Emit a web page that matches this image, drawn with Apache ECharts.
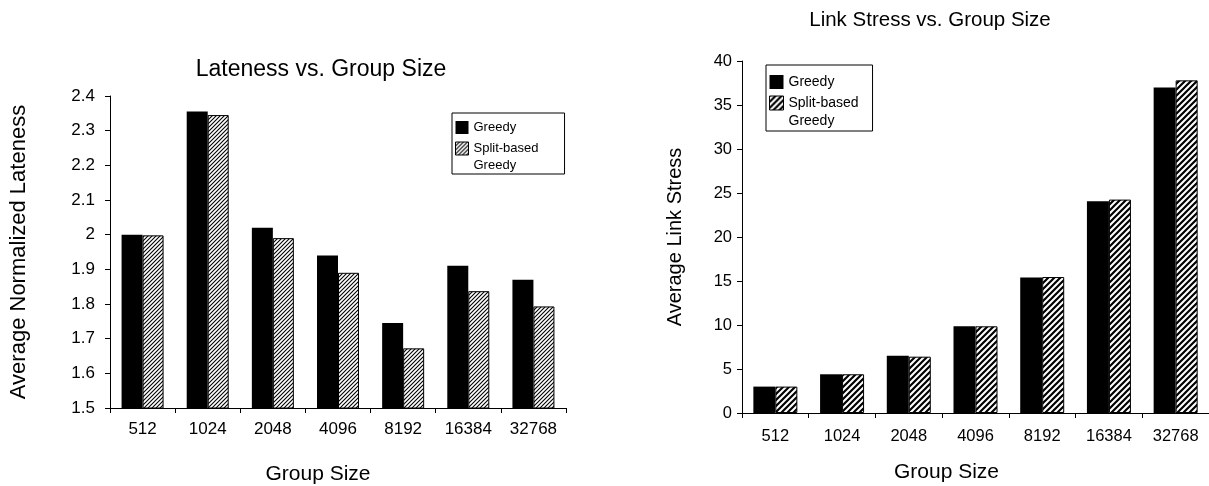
<!DOCTYPE html>
<html>
<head>
<meta charset="utf-8">
<script src="https://cdn.jsdelivr.net/npm/echarts@6/dist/echarts.min.js"></script>
<style>
html, body { margin: 0; padding: 0; background: #fff; }
#chart { width: 1209px; height: 486px; }
</style>
</head>
<body>
<div id="chart"></div>
<script>
var groupSizes = ['512', '1024', '2048', '4096', '8192', '16384', '32768'];
var latenessGreedy = [2.0, 2.355, 2.02, 1.94, 1.745, 1.91, 1.87];
var latenessSplit = [1.998, 2.345, 1.99, 1.89, 1.672, 1.837, 1.793];
var stressGreedy = [3.0, 4.4, 6.5, 9.85, 15.4, 24.05, 37.0];
var stressSplit = [3.0, 4.4, 6.4, 9.85, 15.45, 24.25, 37.8];
var latenessTicks = [1.5, 2.4, 0.1];
var stressTicks = [0, 40, 5];

var FONT = '"Liberation Sans", Arial, sans-serif';

// diagonal hatch tile
function hatch(size, lw) {
    var c = document.createElement('canvas');
    c.width = c.height = size;
    var g = c.getContext('2d');
    g.fillStyle = '#fff';
    g.fillRect(0, 0, size, size);
    g.strokeStyle = '#000';
    g.lineWidth = lw;
    g.beginPath();
    g.moveTo(-size, size * 2); g.lineTo(size * 2, -size);
    g.moveTo(-size, size); g.lineTo(size, -size);
    g.moveTo(0, size * 2); g.lineTo(size * 2, 0);
    g.stroke();
    return { image: c, repeat: 'repeat' };
}
var thinHatch = hatch(4, 1.1);
var thickHatch = hatch(6, 2.2);

// blank first line puts the icon next to "Split-based"; negative gap pulls it back up
function legendOpt(left, top, fontSize, lh, icon, gap, pat, padding) {
    return {
        orient: 'vertical',
        left: left,
        top: top,
        icon: 'rect',
        itemWidth: icon,
        itemHeight: icon,
        itemGap: gap,
        borderColor: '#000',
        borderWidth: 1,
        padding: padding,
        textStyle: { fontFamily: FONT, fontSize: fontSize, color: '#000', lineHeight: lh },
        formatter: function (n) { return n === 'Greedy' ? n : '\nSplit-based\nGreedy'; },
        data: [
            { name: 'Greedy', itemStyle: { color: '#000', borderWidth: 0 } },
            { name: 'Split-based Greedy', itemStyle: { color: pat, borderColor: '#000', borderWidth: 1 } }
        ]
    };
}

function axisStyle() {
    return {
        axisLine: { show: true, lineStyle: { color: '#000', width: 1 } },
        axisTick: { show: true, length: 5, lineStyle: { color: '#000' } },
        splitLine: { show: false }
    };
}

var myChart = echarts.init(document.getElementById('chart'));
var option = {
    animation: false,
    backgroundColor: '#fff',
    textStyle: { fontFamily: FONT },
    title: [
        { text: 'Lateness vs. Group Size', left: 316, top: 53, textAlign: 'center',
          textStyle: { fontFamily: FONT, fontSize: 23, fontWeight: 'normal', color: '#000' } },
        { text: 'Link Stress vs. Group Size', left: 925, top: 5, textAlign: 'center',
          textStyle: { fontFamily: FONT, fontSize: 20.5, fontWeight: 'normal', color: '#000' } }
    ],
    legend: [
        legendOpt(452, 113, 13, 17, 13, -13, thinHatch, [6, 26, 0, 3]),
        legendOpt(766, 65, 14, 18, 14, -15, thickHatch, [8, 14, 1, 3])
    ],
    grid: [
        { left: 110, top: 96, width: 456, height: 312, outerBoundsMode: 'none' },
        { left: 742, top: 61, width: 467, height: 352, outerBoundsMode: 'none' }
    ],
    xAxis: [
        Object.assign({
            type: 'category', gridIndex: 0, data: groupSizes,
            name: 'Group Size', nameLocation: 'middle', nameGap: 56,
            nameTextStyle: { fontFamily: FONT, fontSize: 21, color: '#000', padding: [0, 40, 0, 0] },
            axisLabel: { fontFamily: FONT, fontSize: 17, color: '#000', margin: 13 }
        }, axisStyle()),
        Object.assign({
            type: 'category', gridIndex: 1, data: groupSizes,
            name: 'Group Size', nameLocation: 'middle', nameGap: 49,
            nameTextStyle: { fontFamily: FONT, fontSize: 21, color: '#000', padding: [0, 58, 0, 0] },
            axisLabel: { fontFamily: FONT, fontSize: 16.5, color: '#000', margin: 15 }
        }, axisStyle())
    ],
    yAxis: [
        Object.assign({
            type: 'value', gridIndex: 0,
            min: latenessTicks[0], max: latenessTicks[1], interval: latenessTicks[2],
            name: 'Average Normalized Lateness', nameLocation: 'middle', nameGap: 80,
            nameTextStyle: { fontFamily: FONT, fontSize: 22, color: '#000' },
            axisLabel: { fontFamily: FONT, fontSize: 17, color: '#000', margin: 15 }
        }, axisStyle()),
        Object.assign({
            type: 'value', gridIndex: 1,
            min: stressTicks[0], max: stressTicks[1], interval: stressTicks[2],
            name: 'Average Link Stress', nameLocation: 'middle', nameGap: 57,
            nameTextStyle: { fontFamily: FONT, fontSize: 20, color: '#000' },
            axisLabel: { fontFamily: FONT, fontSize: 16.5, color: '#000', margin: 10 }
        }, axisStyle())
    ],
    series: [
        { name: 'Greedy', type: 'bar', xAxisIndex: 0, yAxisIndex: 0, data: latenessGreedy,
          barWidth: 21, barGap: '0%', itemStyle: { color: '#000' } },
        { name: 'Split-based Greedy', type: 'bar', xAxisIndex: 0, yAxisIndex: 0, data: latenessSplit,
          barWidth: 21, barGap: '0%', itemStyle: { color: thinHatch, borderColor: '#000', borderWidth: 1 } },
        { name: 'Greedy', type: 'bar', xAxisIndex: 1, yAxisIndex: 1, data: stressGreedy,
          barWidth: 22, barGap: '0%', itemStyle: { color: '#000' } },
        { name: 'Split-based Greedy', type: 'bar', xAxisIndex: 1, yAxisIndex: 1, data: stressSplit,
          barWidth: 22, barGap: '0%', itemStyle: { color: thickHatch, borderColor: '#000', borderWidth: 1 } }
    ]
};
myChart.setOption(option);
</script>
</body>
</html>
